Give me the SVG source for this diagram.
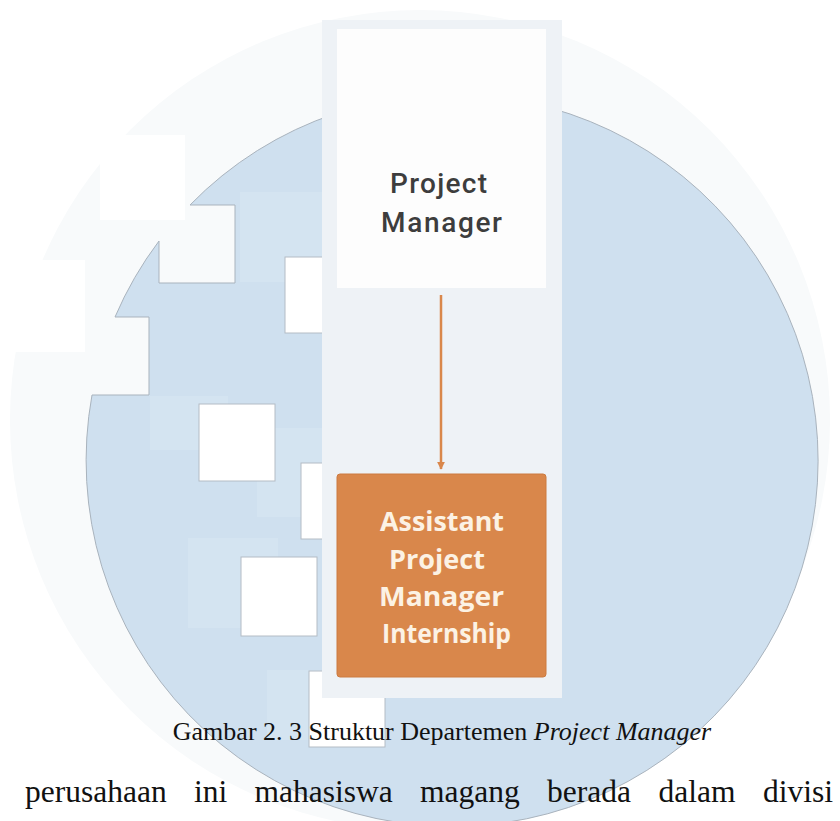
<svg xmlns="http://www.w3.org/2000/svg" width="840" height="821" viewBox="0 0 840 821">
<style>
.cut{fill:#ffffff;stroke:#b4bcc5;stroke-width:1}
.faint{fill:#d4e4f1}
.pm{font-family:Roboto,"Liberation Sans",sans-serif;font-weight:500;font-size:28px;fill:#3d3d3d;text-anchor:middle}
.ap{font-family:"Open Sans","Liberation Sans",sans-serif;font-weight:700;font-size:26px;fill:#fcf2e4;text-anchor:middle}
.cap{font-family:"Liberation Serif","Times New Roman",serif;font-size:26px;fill:#111111}
.body{font-family:"Liberation Serif","Times New Roman",serif;font-size:31.5px;fill:#111111}
</style>
<defs>
<marker id="ah" viewBox="0 0 10 10" refX="9" refY="5" markerWidth="3.2" markerHeight="3.2" orient="auto" markerUnits="strokeWidth">
<path d="M0,0 L10,5 L0,10 Z" fill="#d9874b"/>
</marker>
</defs>
<rect width="840" height="821" fill="#ffffff"/>
<g id="watermark">
<circle cx="420" cy="420" r="410" fill="#f8fafb"/>
<rect x="100" y="135" width="85" height="85" fill="#ffffff"/>
<rect x="0" y="260" width="85" height="92" fill="#ffffff"/>
<path d="M92,395 A366,366 0 1 0 190,205 L235,205 L235,283 L159,283 L159,241 A366,366 0 0 0 115,317 L149,317 L149,395 Z" fill="#cfe0ef" stroke="#a9b3bd" stroke-width="1"/>
<rect class="faint" x="240" y="192" width="82" height="90"/>
<rect class="faint" x="150" y="396" width="78" height="54"/>
<rect class="faint" x="257" y="428" width="65" height="89"/>
<rect class="faint" x="188" y="538" width="90" height="90"/>
<rect class="faint" x="267" y="670" width="55" height="70"/>
<rect class="cut" x="285" y="257" width="60" height="76"/>
<rect class="cut" x="199" y="404" width="76" height="77"/>
<rect class="cut" x="301" y="463" width="60" height="76"/>
<rect class="cut" x="241" y="557" width="76" height="79"/>
<rect class="cut" x="309" y="671" width="76" height="76"/>
</g>
<g id="panel">
<rect x="322" y="20" width="240" height="678" fill="#eef2f6"/>
</g>
<g id="connectors">
<line x1="441" y1="295" x2="441" y2="469" stroke="#d9874b" stroke-width="2.5" marker-end="url(#ah)"/>
</g>
<g id="node-project-manager">
<rect x="337" y="29" width="209" height="259" fill="#fdfdfd"/>
<text class="pm" x="438.5" y="193" textLength="97" lengthAdjust="spacing">Project</text>
<text class="pm" x="441.5" y="232" textLength="121" lengthAdjust="spacing">Manager</text>
</g>
<g id="node-assistant">
<rect x="337" y="474" width="209" height="203" rx="3" fill="#d9874b" stroke="#cc7a40" stroke-width="1"/>
<text class="ap" x="442" y="531" textLength="124" lengthAdjust="spacingAndGlyphs">Assistant</text>
<text class="ap" x="437" y="569" textLength="96" lengthAdjust="spacingAndGlyphs">Project</text>
<text class="ap" x="441.5" y="606" textLength="125" lengthAdjust="spacingAndGlyphs">Manager</text>
<text class="ap" x="446.5" y="643" textLength="129" lengthAdjust="spacingAndGlyphs">Internship</text>
</g>
<g id="caption">
<text class="cap" x="442" y="740" text-anchor="middle">Gambar 2. 3 Struktur Departemen <tspan font-style="italic">Project Manager</tspan></text>
</g>
<g id="body-text">
<text class="body" y="802"><tspan x="25">perusahaan</tspan><tspan x="194">ini</tspan><tspan x="254.5">mahasiswa</tspan><tspan x="420">magang</tspan><tspan x="547">berada</tspan><tspan x="658.5">dalam</tspan><tspan x="763">divisi</tspan></text>
</g>
</svg>
